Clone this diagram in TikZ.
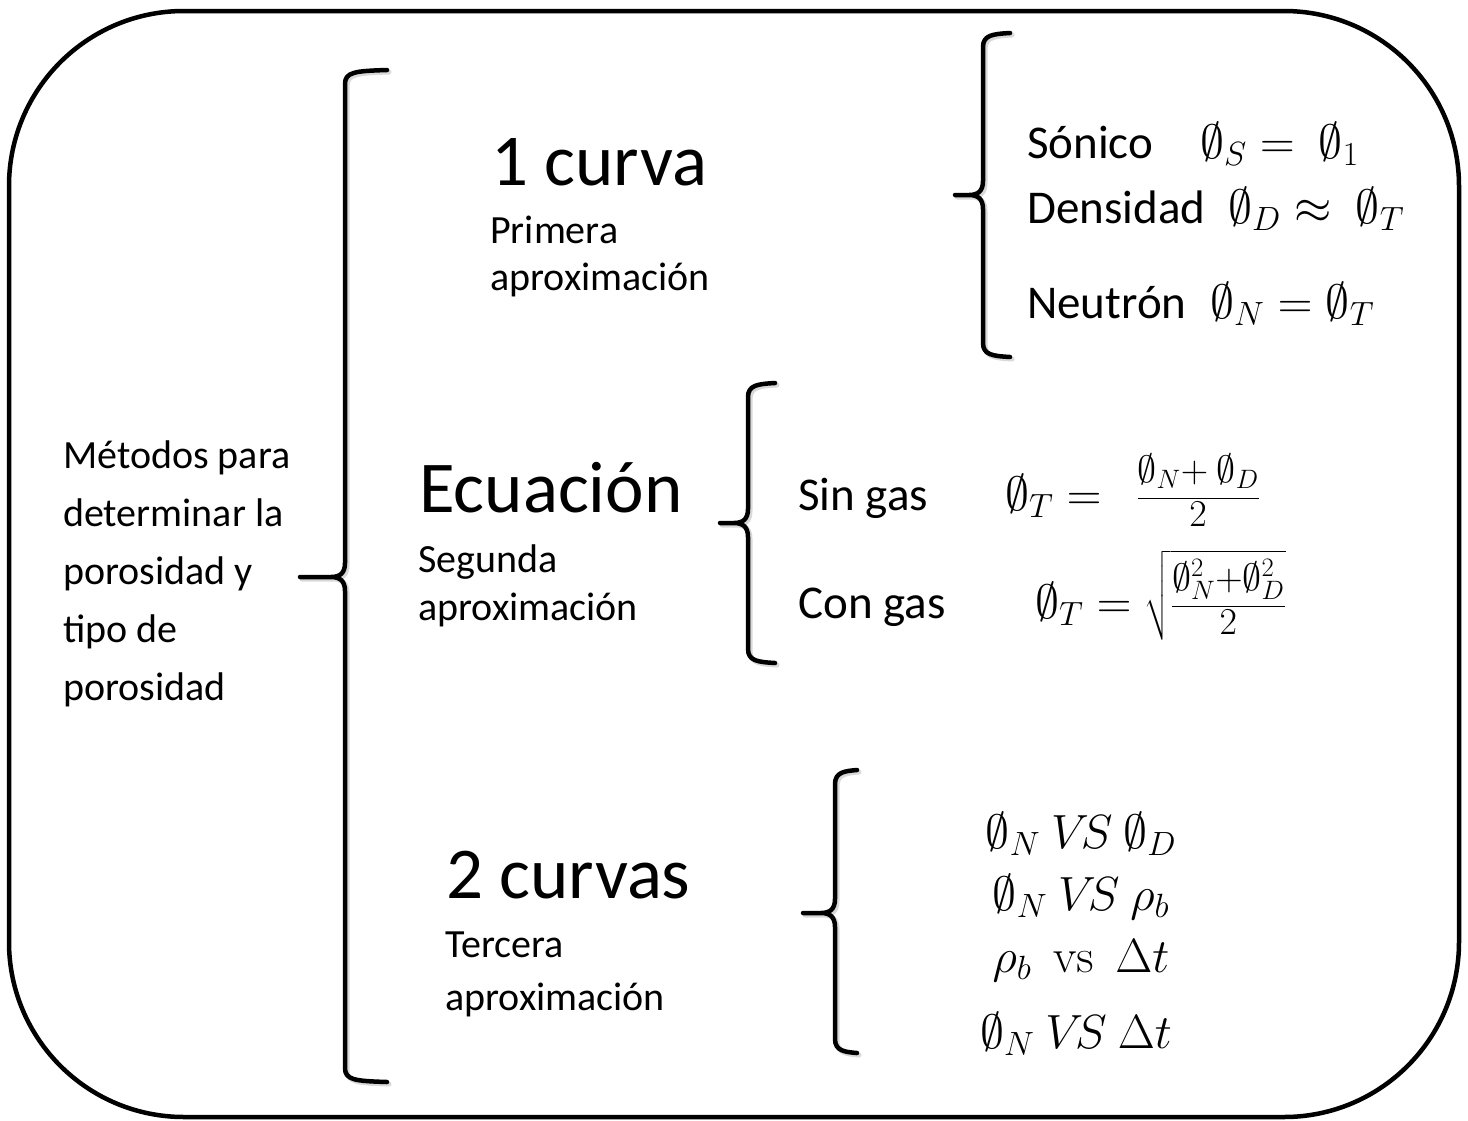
\RequirePackage{fix-cm}
\documentclass[tikz,border=0pt]{standalone}
\usepackage{exscale}
\usepackage[no-math]{fontspec}
\setmainfont{Carlito}
% #1 style, #2 x of vertical, #3 top, #4 bottom, #5 middle, #6 tip x, #7 tick end x
\newcommand\mybrace[7]{%
  \draw[#1] (#7,#3) .. controls ({#2+10},{#3+1}) and (#2,{#3+2}) .. (#2,{#3+14})
    -- (#2,{#5-14}) .. controls (#2,{#5-4}) and ({#2-5},#5) .. ({#2-14},#5) -- (#6,#5)
    -- ({#2-14},#5) .. controls ({#2-5},#5) and (#2,{#5+4}) .. (#2,{#5+14})
    -- (#2,{#4-14}) .. controls (#2,{#4-2}) and ({#2+10},{#4-1}) .. (#7,#4);}
\newcommand\fracpart[1]{\mbox{\fontsize{38}{44}\selectfont$#1$}}
\newcommand\numstrut{\rule[-14pt]{0pt}{14pt}}
\begin{document}
\begin{tikzpicture}[x=1pt,y=-1pt,
  bigt/.style={font=\fontsize{73}{80}\selectfont, anchor=base west, inner sep=0pt},
  subt/.style={font=\fontsize{40}{48}\selectfont, anchor=base west, inner sep=0pt},
  lbl/.style={font=\fontsize{47}{56}\selectfont, anchor=base west, inner sep=0pt},
  frm/.style={font=\fontsize{48}{56}\selectfont, anchor=base west, inner sep=0pt},
  rowf/.style={font=\fontsize{48}{56}\selectfont, anchor=base, inner sep=0pt},
  bracel/.style={line width=4.5pt, line join=round, line cap=round},
  braceshadow/.style={line width=5pt, line join=round, line cap=round, black!15, shift={(2,2)}},
  frame/.style={line width=4.5pt, rounded corners=175pt}]
\useasboundingbox (0,0) rectangle (1468,1120);
\draw[frame] (9,11) rectangle (1459,1117);

% braces (shadow, then stroke)
\mybrace{braceshadow}{345}{70}{1082}{577}{300}{387}
\mybrace{braceshadow}{983}{33}{357}{195}{955}{1010}
\mybrace{braceshadow}{748}{383}{663}{523}{720}{775}
\mybrace{braceshadow}{835}{770}{1053}{913}{803}{857}
\mybrace{bracel}{345}{70}{1082}{577}{300}{387}
\mybrace{bracel}{983}{33}{357}{195}{955}{1010}
\mybrace{bracel}{748}{383}{663}{523}{720}{775}
\mybrace{bracel}{835}{770}{1053}{913}{803}{857}

% left text
\node[subt] (m1) at (63,468) {Métodos para};
\node[subt] (m2) at (63,526) {determinar la};
\node[subt] (m3) at (63,584) {porosidad y};
\node[subt] (m4) at (63,642) {tipo de};
\node[subt] (m5) at (63,700) {porosidad};

% titles
\node[bigt] (t1) at (491,185) {1 curva};
\node[subt] (s1a) at (490,243) {Primera};
\node[subt] (s1b) at (490,290) {aproximación};
\node[bigt] (t2) at (419,512) {Ecuación};
\node[subt] (s2a) at (418,572) {Segunda};
\node[subt] (s2b) at (418,620) {aproximación};
\node[bigt] (t3) at (446,898) {2 curvas};
\node[subt] (s3a) at (445,957) {Tercera};
\node[subt] (s3b) at (445,1010) {aproximación};

% first group
\node[lbl] (son) at (1027,158) {Sónico};
\node[frm] (fson) at (1200,158) {$\emptyset_S = \ \emptyset_1$};
\node[lbl] (den) at (1027,223) {Densidad};
\node[frm] (fden) at (1228,223) {$\emptyset_D \approx \ \emptyset_T$};
\node[lbl] (neu) at (1027,318) {Neutrón};
\node[frm] (fneu) at (1210,318) {$\emptyset_N = \emptyset_T$};

% second group
\node[lbl] (sg) at (798,510) {Sin gas};
\node[frm] (fsg) at (1005,510) {$\emptyset_T =\ \ \frac{\fracpart{\emptyset_N{+}\ \emptyset_D\numstrut}}{\fracpart{2}}$};
\node[lbl] (cg) at (798,618) {Con gas};
\node[frm] (fcg) at (1035,618) {$\emptyset_T = \sqrt{\frac{\fracpart{\emptyset_N^2{+}\emptyset_D^2\numstrut}}{\fracpart{2}}}$};

% third group
\node[rowf] (r1) at (1081,848) {$\emptyset_N\ V\!S\ \emptyset_D$};
\node[rowf] (r2) at (1081,910) {$\emptyset_N\ V\!S\ \rho_b$};
\node[rowf] (r3) at (1081,972) {$\rho_b\ \ \mathrm{vs}\ \ \Delta t$};
\node[rowf] (r4) at (1076,1048) {$\emptyset_N\ V\!S\ \Delta t$};
\end{tikzpicture}
\end{document}
